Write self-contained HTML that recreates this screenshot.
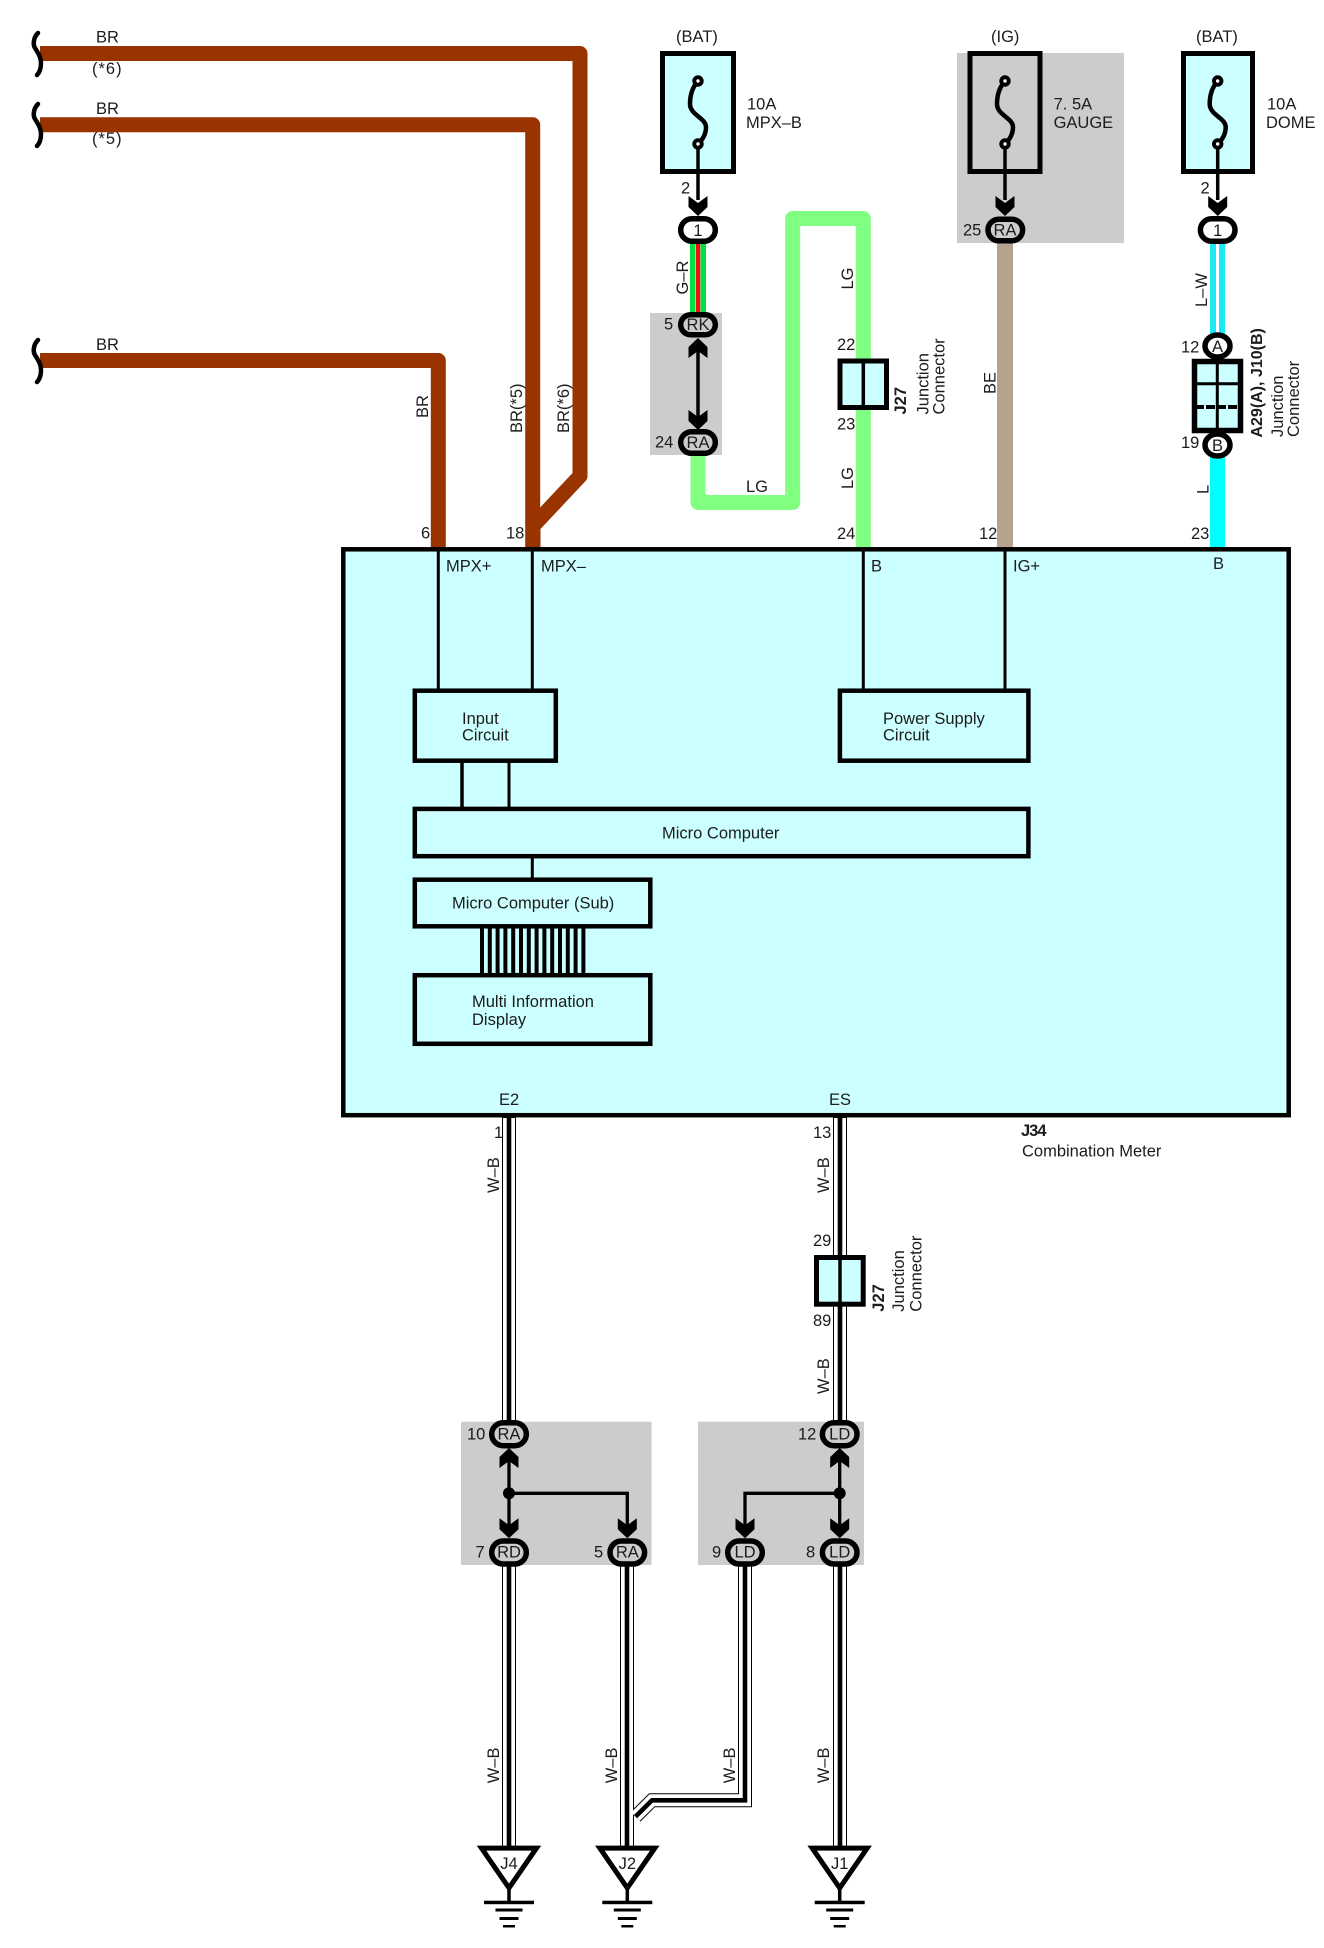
<!DOCTYPE html>
<html><head><meta charset="utf-8"><style>
html,body{margin:0;padding:0;background:#fff}
svg{display:block}
text{font-family:"Liberation Sans",sans-serif;font-size:16.5px;fill:#1c1c1c}
.b{font-weight:bold}
.m{text-anchor:middle}
</style></head><body>
<svg xmlns="http://www.w3.org/2000/svg" width="1324" height="1948" viewBox="0 0 1324 1948">
<defs>
<path id="ad" d="M-9.5 -20L0 -13L9.5 -20V-9L0 0L-9.5 -9Z" fill="#000"/>
<path id="au" d="M-9.5 20L0 13L9.5 20V9L0 0L-9.5 9Z" fill="#000"/>
<path id="sq" d="M38 33C33 38 33 45 35 48C38 53 41 57 41 63C41 68 40 72 37 75" fill="none" stroke="#000" stroke-width="4.5" stroke-linecap="round"/>
<g id="fuse" fill="none" stroke="#000">
<path d="M0 0C-8 9 -8 19 -8 23C-8 34 8 37 8 46C8 54 4 59 0 63" stroke-width="4.5"/>
<circle cx="0" cy="0" r="3.7" fill="#fff" stroke-width="4"/>
<circle cx="0" cy="63" r="3.7" fill="#fff" stroke-width="4"/>
</g>
<g id="gnd">
<line x1="0" y1="0" x2="0" y2="14" stroke="#000" stroke-width="3.5"/>
<rect x="-25" y="12.7" width="50" height="3.5" fill="#000"/>
<rect x="-13.5" y="20.5" width="27" height="3" fill="#000"/>
<rect x="-9.5" y="29" width="19" height="3" fill="#000"/>
<rect x="-6" y="37" width="12" height="2.5" fill="#000"/>
</g>
</defs>

<!-- grey shaded areas -->
<rect x="650" y="313" width="72" height="142" fill="#ccc"/>
<rect x="957" y="53" width="167" height="190" fill="#ccc"/>
<rect x="461" y="1421.7" width="190.5" height="143.3" fill="#ccc"/>
<rect x="698" y="1421.7" width="166" height="143.3" fill="#ccc"/>

<!-- brown wires -->
<g fill="none" stroke="#993300" stroke-width="15" stroke-linejoin="round">
<path d="M40 53.5H580V476L533 526V549"/>
<path d="M40 124.7H532.7V549"/>
<path d="M40 360.5H438.3V549"/>
</g>
<use href="#sq"/>
<use href="#sq" y="71"/>
<use href="#sq" y="307"/>

<!-- G-R wire -->
<rect x="690" y="240" width="16" height="75" fill="#00e040"/>
<rect x="695.5" y="240" width="5" height="75" fill="#fff"/>
<rect x="696" y="240" width="4.2" height="75" fill="#f01010"/>

<!-- LG wire -->
<path d="M698 452V502.5H792.7V218.5H863.3V549" fill="none" stroke="#80ff80" stroke-width="15" stroke-linejoin="round"/>

<!-- BE wire -->
<rect x="997" y="240" width="16" height="309" fill="#b5a38e"/>

<!-- L-W / L wire -->
<rect x="1210" y="240" width="15" height="100" fill="#1de9f5"/>
<rect x="1216" y="240" width="3" height="100" fill="#fff"/>
<rect x="1210" y="450" width="15" height="99" fill="#00ffff"/>

<!-- fuses -->
<rect x="662.5" y="53.5" width="71" height="118" fill="#ccffff" stroke="#000" stroke-width="5"/>
<rect x="970" y="53.5" width="70" height="118" fill="none" stroke="#000" stroke-width="5"/>
<rect x="1183.5" y="53.5" width="69" height="118" fill="#ccffff" stroke="#000" stroke-width="5"/>
<use href="#fuse" x="698" y="81"/>
<use href="#fuse" x="1005" y="81"/>
<use href="#fuse" x="1217.7" y="81"/>
<g stroke="#000" stroke-width="3.5">
<line x1="698" y1="146" x2="698" y2="200"/>
<line x1="1005" y1="146" x2="1005" y2="200"/>
<line x1="1217.7" y1="146" x2="1217.7" y2="200"/>
<line x1="698" y1="345" x2="698" y2="420"/>
</g>
<use href="#ad" x="698" y="216"/>
<use href="#ad" x="1005" y="216"/>
<use href="#ad" x="1217.7" y="216"/>
<use href="#au" x="698" y="338"/>
<use href="#ad" x="698" y="430"/>

<!-- main box -->
<rect x="343.3" y="549.3" width="945.4" height="565.9" fill="#ccffff" stroke="#000" stroke-width="4.5"/>
<g stroke="#000" stroke-width="3">
<line x1="438.3" y1="551" x2="438.3" y2="690"/>
<line x1="532.3" y1="551" x2="532.3" y2="690"/>
<line x1="863.3" y1="551" x2="863.3" y2="690"/>
<line x1="1005" y1="551" x2="1005" y2="690"/>
<line x1="462" y1="762" x2="462" y2="808" stroke-width="3.5"/>
<line x1="509" y1="762" x2="509" y2="808"/>
<line x1="532.3" y1="857" x2="532.3" y2="879"/>
</g>
<g stroke="#000" stroke-width="4">
<line x1="482" y1="927" x2="482" y2="974"/>
<line x1="489.8" y1="927" x2="489.8" y2="974"/>
<line x1="497.6" y1="927" x2="497.6" y2="974"/>
<line x1="505.4" y1="927" x2="505.4" y2="974"/>
<line x1="513.2" y1="927" x2="513.2" y2="974"/>
<line x1="521" y1="927" x2="521" y2="974"/>
<line x1="528.8" y1="927" x2="528.8" y2="974"/>
<line x1="536.6" y1="927" x2="536.6" y2="974"/>
<line x1="544.4" y1="927" x2="544.4" y2="974"/>
<line x1="552.2" y1="927" x2="552.2" y2="974"/>
<line x1="560" y1="927" x2="560" y2="974"/>
<line x1="567.8" y1="927" x2="567.8" y2="974"/>
<line x1="575.6" y1="927" x2="575.6" y2="974"/>
<line x1="583.4" y1="927" x2="583.4" y2="974"/>
</g>
<g fill="#ccffff" stroke="#000" stroke-width="4.5">
<rect x="414.8" y="690.7" width="141" height="70"/>
<rect x="839.9" y="690.7" width="188.5" height="70"/>
<rect x="414.8" y="808.9" width="613.6" height="47.3"/>
<rect x="414.8" y="879.7" width="235.5" height="46.6"/>
<rect x="414.8" y="975.2" width="235.5" height="68.6"/>
</g>

<!-- J27 upper -->
<rect x="840" y="361" width="46.5" height="46.5" fill="#ccffff" stroke="#000" stroke-width="5"/>
<line x1="863.3" y1="361" x2="863.3" y2="407" stroke="#000" stroke-width="3.5"/>

<!-- A29/J10 connector -->
<rect x="1194.5" y="361.5" width="46" height="69" fill="#ccffff" stroke="#000" stroke-width="5.5"/>
<line x1="1217.3" y1="361" x2="1217.3" y2="431" stroke="#000" stroke-width="3"/>
<line x1="1195" y1="383.7" x2="1240" y2="383.7" stroke="#000" stroke-width="3"/>
<line x1="1195" y1="407" x2="1240" y2="407" stroke="#000" stroke-width="4" stroke-dasharray="9 2"/>

<!-- W-B wires -->
<g fill="none" stroke="#000" stroke-width="14">
<path d="M509 1116V1425"/><path d="M840 1116V1425"/>
<path d="M509 1558V1848"/><path d="M627 1558V1848"/><path d="M840 1558V1848"/>
<path d="M745 1558V1800.3H652L635.5 1816.6"/>
</g>
<g fill="none" stroke="#fff" stroke-width="12">
<path d="M509 1118V1425"/><path d="M840 1118V1425"/>
<path d="M509 1558V1848"/><path d="M627 1558V1848"/><path d="M840 1558V1848"/>
<path d="M745 1558V1800.3H652L635.5 1816.6"/>
</g>
<g fill="none" stroke="#000" stroke-width="4.6">
<path d="M509 1116V1425"/><path d="M840 1116V1425"/>
<path d="M509 1558V1848"/><path d="M627 1558V1848"/><path d="M840 1558V1848"/>
<path d="M745 1558V1800.3H652L635.5 1816.6"/>
</g>

<!-- J27 lower -->
<rect x="816.5" y="1257.5" width="46.7" height="46.7" fill="#ccffff" stroke="#000" stroke-width="5"/>
<line x1="840" y1="1257" x2="840" y2="1304" stroke="#000" stroke-width="3.5"/>

<!-- junction trees -->
<g fill="none" stroke="#000" stroke-width="3.3">
<path d="M509 1455V1525"/>
<path d="M509 1493.3H627.3V1525"/>
<path d="M839.7 1455V1525"/>
<path d="M839.7 1493.3H745V1525"/>
</g>
<circle cx="509" cy="1493.3" r="6" fill="#000"/>
<circle cx="839.7" cy="1493.3" r="6" fill="#000"/>
<use href="#au" x="509" y="1448"/>
<use href="#au" x="839.7" y="1448"/>
<use href="#ad" x="509" y="1538.3"/>
<use href="#ad" x="627.3" y="1538.3"/>
<use href="#ad" x="745" y="1538.3"/>
<use href="#ad" x="839.7" y="1538.3"/>

<!-- connector ovals -->
<g stroke="#000" stroke-width="5.5">
<rect x="680.7" y="218.7" width="34.6" height="22.6" rx="11.3" fill="#fff"/>
<rect x="1200.4" y="218.7" width="34.6" height="22.6" rx="11.3" fill="#fff"/>
<rect x="680.7" y="314.7" width="34.6" height="20" rx="10" fill="#ccc"/>
<rect x="680.7" y="431.7" width="34.6" height="21.6" rx="10.8" fill="#ccc"/>
<rect x="988" y="219.2" width="34.6" height="21.6" rx="10.8" fill="#ccc"/>
<rect x="491.7" y="1422.7" width="34.6" height="23" rx="11.5" fill="#ccc"/>
<rect x="822.4" y="1422.7" width="34.6" height="23" rx="11.5" fill="#ccc"/>
<rect x="491.7" y="1541" width="34.6" height="23" rx="11.5" fill="#ccc"/>
<rect x="610" y="1541" width="34.6" height="23" rx="11.5" fill="#ccc"/>
<rect x="727.7" y="1541" width="34.6" height="23" rx="11.5" fill="#ccc"/>
<rect x="822.4" y="1541" width="34.6" height="23" rx="11.5" fill="#ccc"/>
<ellipse cx="1217.5" cy="346" rx="12.5" ry="11" fill="#fff"/>
<ellipse cx="1217.5" cy="445" rx="12.5" ry="11" fill="#fff"/>
</g>

<!-- ground triangles -->
<g fill="#fff" stroke="#000" stroke-width="5">
<polygon points="481.5,1848.1 536.5,1848.1 509,1888"/>
<polygon points="599.8,1848.1 654.8,1848.1 627.3,1888"/>
<polygon points="812.2,1848.1 867.2,1848.1 839.7,1888"/>
</g>
<use href="#gnd" x="509" y="1888"/>
<use href="#gnd" x="627.3" y="1888"/>
<use href="#gnd" x="839.7" y="1888"/>

<!-- text -->
<text x="96" y="42.5">BR</text>
<text x="92" y="74" style="letter-spacing:1px">(*6)</text>
<text x="96" y="114">BR</text>
<text x="92" y="144" style="letter-spacing:1px">(*5)</text>
<text x="96" y="350">BR</text>
<text transform="translate(428,418) rotate(-90)">BR</text>
<text transform="translate(522,433) rotate(-90)">BR(*5)</text>
<text transform="translate(569,433) rotate(-90)">BR(*6)</text>
<text x="421" y="538.5">6</text>
<text x="506" y="538.5">18</text>

<text x="676" y="42">(BAT)</text>
<text x="991" y="42">(IG)</text>
<text x="1196" y="42">(BAT)</text>
<text x="747" y="109.5">10A</text>
<text x="746" y="128">MPX–B</text>
<text x="1053.6" y="109.5">7. 5A</text>
<text x="1053.6" y="128">GAUGE</text>
<text x="1267" y="109.5">10A</text>
<text x="1266" y="128">DOME</text>
<text x="681" y="193.5">2</text>
<text x="1200.5" y="193.5">2</text>
<text class="m" x="698" y="236">1</text>
<text class="m" x="1217.7" y="236">1</text>
<text transform="translate(688,294.5) rotate(-90)">G–R</text>
<text x="664" y="329.5">5</text>
<text class="m" x="698" y="330">RK</text>
<text x="655" y="447.5">24</text>
<text class="m" x="698" y="448">RA</text>
<text x="746" y="492">LG</text>
<text transform="translate(853,289.5) rotate(-90)">LG</text>
<text transform="translate(853,489) rotate(-90)">LG</text>
<text x="837" y="350">22</text>
<text x="837" y="429.5">23</text>
<text x="837" y="539">24</text>
<text class="b" transform="translate(906,414.5) rotate(-90)">J27</text>
<text transform="translate(928.5,414.5) rotate(-90)">Junction</text>
<text transform="translate(944.5,414.5) rotate(-90)">Connector</text>
<text x="963" y="235.5">25</text>
<text class="m" x="1005" y="235.5">RA</text>
<text transform="translate(995.5,394) rotate(-90)">BE</text>
<text x="979" y="539">12</text>
<text transform="translate(1207,307) rotate(-90)">L–W</text>
<text x="1181" y="352.5">12</text>
<text class="m" x="1217.5" y="352">A</text>
<text x="1181" y="448">19</text>
<text class="m" x="1217.5" y="451">B</text>
<text class="b" transform="translate(1262,437.5) rotate(-90)" style="font-size:16px">A29(A), J10(B)</text>
<text transform="translate(1283,437) rotate(-90)">Junction</text>
<text transform="translate(1299,437) rotate(-90)">Connector</text>
<text transform="translate(1208.5,494) rotate(-90)">L</text>
<text x="1191" y="539">23</text>

<text x="446" y="571.5">MPX+</text>
<text x="541" y="571.5">MPX–</text>
<text x="871" y="571.5">B</text>
<text x="1013" y="571.5">IG+</text>
<text x="1213" y="569">B</text>
<text x="462" y="724">Input</text>
<text x="462" y="740.5">Circuit</text>
<text x="883" y="724">Power Supply</text>
<text x="883" y="740.5">Circuit</text>
<text x="662" y="838.5">Micro Computer</text>
<text x="452" y="908.5">Micro Computer (Sub)</text>
<text x="472" y="1007">Multi Information</text>
<text x="472" y="1025">Display</text>
<text x="499" y="1105">E2</text>
<text x="829" y="1105">ES</text>
<text class="b" x="1021" y="1136" style="letter-spacing:-1px">J34</text>
<text x="1022" y="1156.5">Combination Meter</text>

<text x="494" y="1138">1</text>
<text transform="translate(499,1193) rotate(-90)">W–B</text>
<text x="813" y="1138">13</text>
<text transform="translate(829,1193) rotate(-90)">W–B</text>
<text x="813" y="1246">29</text>
<text x="813" y="1326">89</text>
<text transform="translate(829,1394) rotate(-90)">W–B</text>
<text class="b" transform="translate(884,1311.7) rotate(-90)">J27</text>
<text transform="translate(904,1311.7) rotate(-90)">Junction</text>
<text transform="translate(921.5,1311.7) rotate(-90)">Connector</text>

<text x="467" y="1439.5">10</text>
<text class="m" x="509" y="1439.5">RA</text>
<text x="798" y="1439.5">12</text>
<text class="m" x="839.7" y="1439.5">LD</text>
<text x="475.5" y="1557.7">7</text>
<text class="m" x="509" y="1557.7">RD</text>
<text x="594" y="1557.7">5</text>
<text class="m" x="627.3" y="1557.7">RA</text>
<text x="712" y="1557.7">9</text>
<text class="m" x="745" y="1557.7">LD</text>
<text x="806" y="1557.7">8</text>
<text class="m" x="839.7" y="1557.7">LD</text>

<text transform="translate(499,1783.3) rotate(-90)">W–B</text>
<text transform="translate(617,1783.3) rotate(-90)">W–B</text>
<text transform="translate(735,1783.3) rotate(-90)">W–B</text>
<text transform="translate(829,1783.3) rotate(-90)">W–B</text>
<text class="m" x="509" y="1869">J4</text>
<text class="m" x="627.3" y="1869">J2</text>
<text class="m" x="839.7" y="1869">J1</text>
</svg>
</body></html>
